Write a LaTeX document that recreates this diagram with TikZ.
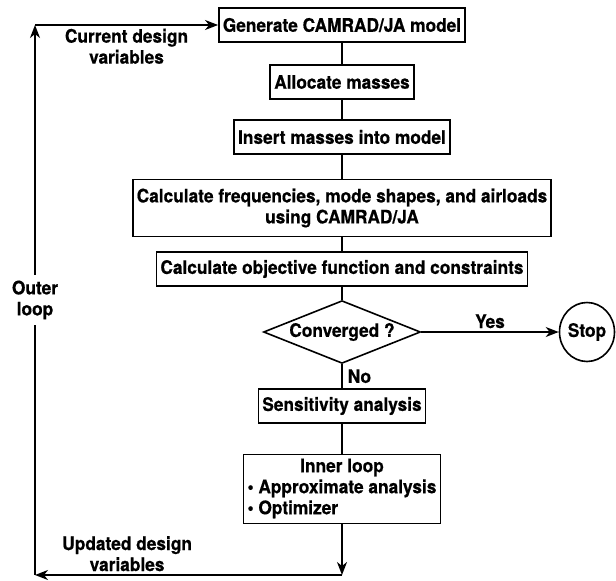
\documentclass[tikz,border=0pt]{standalone}
\usepackage{fontspec}
\setmainfont{TeX Gyre Heros}[FakeStretch=0.93,BoldFeatures={FakeBold=0.6}]
\usetikzlibrary{shapes.geometric}
\usetikzlibrary{arrows.meta}
\usetikzlibrary{calc}

\begin{document}
\begin{tikzpicture}[x=1pt,y=-1pt,line width=1.6pt,>={Stealth[length=13pt,width=10pt,inset=4pt]},
  every node/.style={font=\bfseries\fontsize{18.6}{21}\selectfont,inner sep=3pt},
  stepbox/.style={draw,rectangle,align=center,inner xsep=4pt,minimum height=34pt},
  decision/.style={draw,diamond,aspect=2.5,inner sep=1pt,minimum width=151pt,minimum height=60pt},
  stopnode/.style={draw,ellipse,inner sep=0pt,minimum width=55pt,minimum height=59pt},
  loopnote/.style={align=center}]
  \useasboundingbox (0,0) rectangle (616,581);
  \node [stepbox] (gen)    at (342,25)  {Generate CAMRAD/JA model};
  \node [stepbox] (alloc)  at (342,82)  {Allocate masses};
  \node [stepbox] (insert) at (342,137) {Insert masses into model};
  \node [stepbox,minimum height=57pt] (freq) at (342,208)
    {Calculate frequencies, mode shapes, and airloads\\using CAMRAD/JA};
  \node [stepbox] (obj)    at (342,269) {Calculate objective function and constraints};
  \node [decision] (conv)  at (342,332) {Converged ?};
  \node [stopnode] (stop)  at (587,332) {Stop};
  \node [stepbox] (sens)   at (342,406) {Sensitivity analysis};
  \node [stepbox] (inner)  at (342,489)
    {\begin{tabular}{@{}l@{}}\multicolumn{1}{@{}c@{}}{Inner loop}\\
     \textbullet\ Approximate analysis\\ \textbullet\ Optimizer\end{tabular}};
  \coordinate (br) at (342,575);
  \coordinate (bl) at (35,575);
  \coordinate (tl) at (35,25);
  \draw (gen) -- (alloc);
  \draw (alloc) -- (insert);
  \draw (insert) -- (freq);
  \draw (freq) -- (obj);
  \draw (obj) -- (conv);
  \draw [->] (conv) -- node [above] {Yes} (stop);
  \draw (conv) -- node [right=2pt] {No} (sens);
  \draw (sens) -- (inner);
  \draw [->] (inner) -- (br);
  \draw [->] (br) -- node [loopnote,above,pos=0.7] {Updated design\\variables} (bl);
  \draw [->] (bl) -- node [loopnote,fill=white,inner ysep=6pt] {Outer\\loop} (tl);
  \draw [->] (tl) -- node [loopnote,below] {Current design\\variables} (gen);
\end{tikzpicture}
\end{document}
